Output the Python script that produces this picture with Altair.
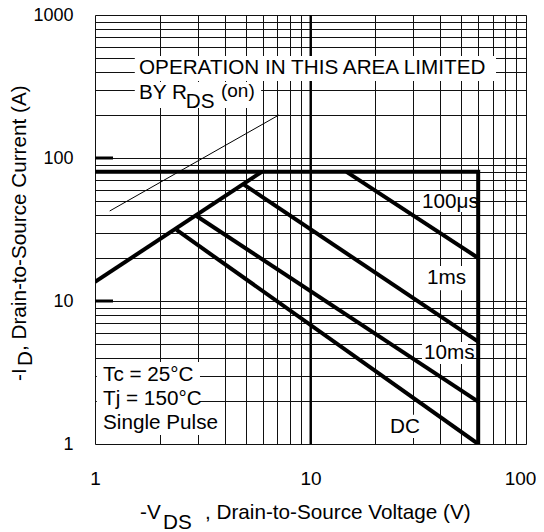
import altair as alt
import pandas as pd

FONT = "Liberation Sans, Arial, Helvetica, sans-serif"

# ---- axis grid / labels ----
x_grid = [1, 2, 3, 4, 5, 6, 7, 8, 9, 10, 20, 30, 40, 50, 60, 70, 80, 90, 100]
y_grid = [1, 2, 3, 4, 5, 6, 7, 8, 9,
          10, 20, 30, 40, 50, 60, 70, 80, 90,
          100, 200, 300, 400, 500, 600, 700, 800, 900, 1000]
x_labels = [1, 10, 100]
y_labels = [1, 10, 100, 1000]
y_major_ticks = [10, 100]
x_major_lines = [10]

# ---- SOA curves (V, A) ----
limit_v = [1, 60, 60]
limit_i = [80, 80, 1]
rds_v = [1, 5.94]
rds_i = [13.6, 80]
us100_v = [14.7, 60]
us100_i = [80, 20]
ms1_v = [4.85, 60]
ms1_i = [66, 5.2]
ms10_v = [2.96, 60]
ms10_i = [39.3, 1.98]
dc_v = [2.39, 60]
dc_i = [31.4, 1.0]
guide_v = [1.17, 7.14]
guide_i = [42.6, 200]

# ---- annotations ----
ann_text = ["OPERATION IN THIS AREA LIMITED", "BY R", "DS", "100\u03bcs", "1ms", "10ms", "DC",
            "Tc = 25\u00b0C", "Tj = 150\u00b0C", "Single Pulse"]
ann_v = [1.6, 1.6, 2.64, 32.9, 34.7, 33.6, 23.4, 1.09, 1.09, 1.09]
ann_i = [426, 285, 246, 49.2, 14.5, 4.33, 1.315, 3.04, 2.064, 1.403]
on_text = ["(on)"]
on_v = [3.84]
on_i = [295]

box_v1 = [1.53, 1.53, 32.2, 33.6, 32.9, 22.6, 1.02]
box_v2 = [72.6, 5.9, 56.8, 51.6, 53.8, 32.2, 3.07]
box_i1 = [345, 224, 41.9, 11.9, 3.63, 1.10, 1.156]
box_i2 = [516, 340, 58.8, 17.6, 5.17, 1.60, 3.74]

# ---- tables ----
def seg(name, vs, is_):
    return pd.DataFrame({"V": vs, "I": is_, "series": name, "ord": list(range(len(vs)))})

thick = pd.concat([
    seg("limit", limit_v, limit_i),
    seg("rds", rds_v, rds_i),
    seg("100us", us100_v, us100_i),
    seg("1ms", ms1_v, ms1_i),
    seg("10ms", ms10_v, ms10_i),
    seg("DC", dc_v, dc_i),
], ignore_index=True)
thin = seg("guide", guide_v, guide_i)
ann = pd.DataFrame({"t": ann_text, "V": ann_v, "I": ann_i})
ann_on = pd.DataFrame({"t": on_text, "V": on_v, "I": on_i})
boxes = pd.DataFrame({"V": box_v1, "V2": box_v2, "I": box_i1, "I2": box_i2})
ymaj = pd.DataFrame({"I": y_major_ticks})
xmaj = pd.DataFrame({"V": x_major_lines})

xlab = ",".join(str(v) for v in x_labels)
ylab = ",".join(str(v) for v in y_labels)

x_scale = alt.Scale(type="log", domain=[1, 100], nice=False)
y_scale = alt.Scale(type="log", domain=[1, 1000], nice=False)

x_axis = alt.Axis(values=x_grid, grid=True, gridColor="#111", gridWidth=1, gridOpacity=1,
                  ticks=False, domain=False, title=None,
                  labelExpr=f"indexof([{xlab}], datum.value) >= 0 ? format(datum.value, 'd') : ''",
                  labelFont=FONT, labelFontSize=19, labelColor="black", labelPadding=25,
                  labelOffset={"condition": {"test": f"datum.value == {x_labels[-1]}", "value": -6},
                               "value": 0},
                  labelOverlap=False, labelFlush=False, labelBound=False)
y_axis = alt.Axis(values=y_grid, grid=True, gridColor="#111", gridWidth=1, gridOpacity=1,
                  ticks=False, domain=False, title=None,
                  labelExpr=f"indexof([{ylab}], datum.value) >= 0 ? format(datum.value, 'd') : ''",
                  labelFont=FONT, labelFontSize=18, labelColor="black", labelPadding=22,
                  labelOverlap=False, labelFlush=False, labelBound=False)

X = alt.X("V:Q", scale=x_scale, axis=x_axis)
Y = alt.Y("I:Q", scale=y_scale, axis=y_axis)

xmaj_layer = alt.Chart(xmaj).mark_rule(color="black", strokeWidth=2).encode(x=X)

box_layer = alt.Chart(boxes).mark_rect(color="white").encode(
    x=X, x2="V2:Q", y=Y, y2="I2:Q")

ytick_layer = alt.Chart(ymaj).mark_rule(color="black", strokeWidth=3).encode(
    y=Y, x=alt.value(0), x2=alt.value(18))

thick_layer = alt.Chart(thick).mark_line(color="black", strokeWidth=4, clip=True).encode(
    x=X, y=Y, detail="series:N", order="ord:Q")
thin_layer = alt.Chart(thin).mark_line(color="black", strokeWidth=1).encode(
    x=X, y=Y, detail="series:N", order="ord:Q")

ann_layer = alt.Chart(ann).mark_text(align="left", baseline="middle", font=FONT,
                                     fontSize=20.7, color="black").encode(x=X, y=Y, text="t:N")
on_layer = alt.Chart(ann_on).mark_text(align="left", baseline="middle", font=FONT,
                                       fontSize=19, color="black").encode(x=X, y=Y, text="t:N")

def ptext(s, x, y, size=20.7, angle=0):
    return alt.Chart(pd.DataFrame({"t": [s]})).mark_text(
        align="left", baseline="middle", font=FONT, fontSize=size, color="black", angle=angle
    ).encode(x=alt.value(x), y=alt.value(y), text="t:N")

titles = [
    ptext("-V", 45, 498),
    ptext("DS", 68, 508),
    ptext(", Drain-to-Source Voltage (V)", 110, 498),
    ptext("-I", -75.5, 366, angle=270),
    ptext("D", -69, 351, angle=270),
    ptext(",  Drain-to-Source Current (A)", -75.5, 336, angle=270),
]

chart = alt.layer(
    xmaj_layer, box_layer, ytick_layer, thin_layer, thick_layer, ann_layer, on_layer, *titles
).properties(
    width=431, height=429,
    autosize=alt.AutoSizeParams(type="none"),
    padding={"left": 87, "top": 7, "right": 10, "bottom": 92},
).configure_view(stroke="black", strokeWidth=3.5).configure(background="white")

chart.save("out.html", embed_options={"renderer": "svg", "actions": False})
